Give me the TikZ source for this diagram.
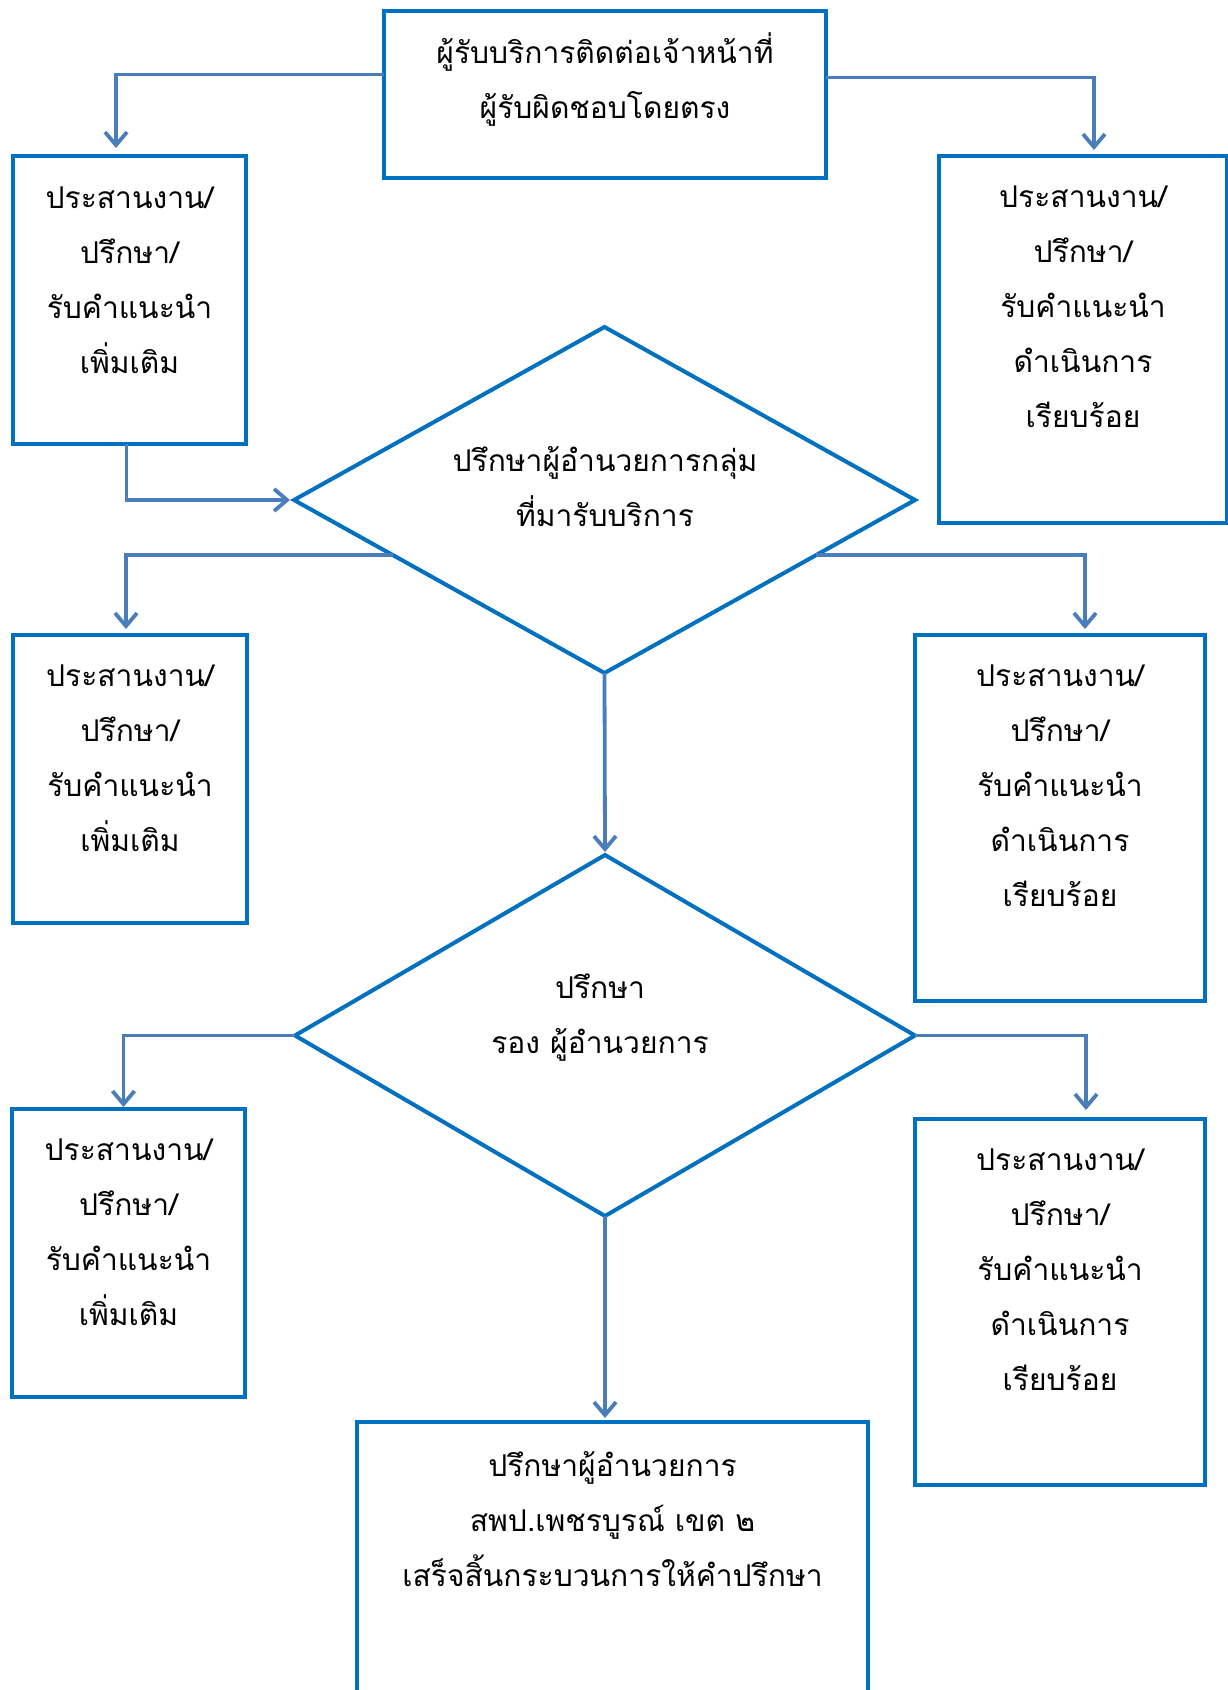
\documentclass[tikz,border=0pt]{standalone}
\usepackage{fontspec}
\newfontfamily\thaifont[Script=Thai]{Loma}
\usetikzlibrary{arrows.meta,calc,shapes.geometric}
\definecolor{boxblue}{HTML}{0070C0}
\definecolor{lineblue}{HTML}{4A7EBB}
\begin{document}
\begin{tikzpicture}[x=1pt,y=-1pt,
  box/.style={draw=boxblue,line width=4.2pt,rectangle,inner sep=0pt,outer sep=0pt},
  dia/.style={draw=boxblue,line width=4pt,diamond,inner sep=0pt,outer sep=0pt},
  conn/.style={draw=lineblue,line width=3.8pt,-{Straight Barb[length=13pt,width=22pt]}},
  txt/.style={align=center,font=\thaifont\fontsize{30}{55}\selectfont,inner sep=0pt,text=black}]
\useasboundingbox[fill=white] (0,0) rectangle (1227,1690);
% boxes
\node[box,minimum width=442pt,minimum height=167pt] (top) at (605,94.5) {};
\node[box,minimum width=233pt,minimum height=288pt] (l1) at (129.5,300) {};
\node[box,minimum width=288pt,minimum height=367pt] (r1) at (1083,339.5) {};
\node[box,minimum width=234pt,minimum height=288pt] (l2) at (130,779) {};
\node[box,minimum width=290pt,minimum height=366pt] (r2) at (1060,818) {};
\node[box,minimum width=233pt,minimum height=288pt] (l3) at (128.5,1253) {};
\node[box,minimum width=290pt,minimum height=366pt] (r3) at (1060,1302) {};
\node[box,minimum width=511pt,minimum height=300pt] (bot) at (612.5,1572) {};
\node[dia,minimum width=621pt,minimum height=346pt] (d1) at (604.5,500) {};
\node[dia,minimum width=620pt,minimum height=361pt] (d2) at (605,1035.5) {};
% texts
\node[txt] (ttop) at (605,79) {ผู้รับบริการติดต่อเจ้าหน้าที่\\ผู้รับผิดชอบโดยตรง};
\node[txt] (tl1) at (129.5,280) {ประสานงาน/\\ปรึกษา/\\รับคำแนะนำ\\เพิ่มเติม};
\node[txt] (tr1) at (1083,307) {ประสานงาน/\\ปรึกษา/\\รับคำแนะนำ\\ดำเนินการ\\เรียบร้อย};
\node[txt] (tl2) at (130,758) {ประสานงาน/\\ปรึกษา/\\รับคำแนะนำ\\เพิ่มเติม};
\node[txt] (tr2) at (1060,786) {ประสานงาน/\\ปรึกษา/\\รับคำแนะนำ\\ดำเนินการ\\เรียบร้อย};
\node[txt] (tl3) at (128.5,1232) {ประสานงาน/\\ปรึกษา/\\รับคำแนะนำ\\เพิ่มเติม};
\node[txt] (tr3) at (1060,1270) {ประสานงาน/\\ปรึกษา/\\รับคำแนะนำ\\ดำเนินการ\\เรียบร้อย};
\node[txt] (td1) at (605,487) {ปรึกษาผู้อำนวยการกลุ่ม\\ที่มารับบริการ};
\node[txt] (td2) at (600,1018) {ปรึกษา\\รอง ผู้อำนวยการ};
\node[txt] (tbot) at (612.5,1519) {ปรึกษาผู้อำนวยการ\\สพป.เพชรบูรณ์ เขต ๒\\เสร็จสิ้นกระบวนการให้คำปรึกษา};
% connectors
\draw[conn] ($(top.west)+(0,-20)$) -| ($(l1.north)+(-13.5,-8)$);
\draw[conn] ($(top.east)+(0,-17)$) -| ($(r1.north)+(11,-6)$);
\draw[conn] ($(l1.south)+(-3,0)$) |- ($(d1.west)+(-4,0)$);
\draw[conn] ($(d1.west)!0.318!(d1.south)$) -| ($(l2.north)+(-4,-6)$);
\draw[conn] ($(d1.east)!0.318!(d1.south)$) -| ($(r2.north)+(25,-6)$);
\draw[conn] (d1.south) -- ($(d2.north)+(0,-3)$);
\draw[conn] (d2.west) -| ($(l3.north)+(-5,-2)$);
\draw[conn] (d2.east) -| ($(r3.north)+(26,-9)$);
\draw[conn] (d2.south) -- ($(d2.south |- bot.north)+(0,-4)$);
\end{tikzpicture}
\end{document}
